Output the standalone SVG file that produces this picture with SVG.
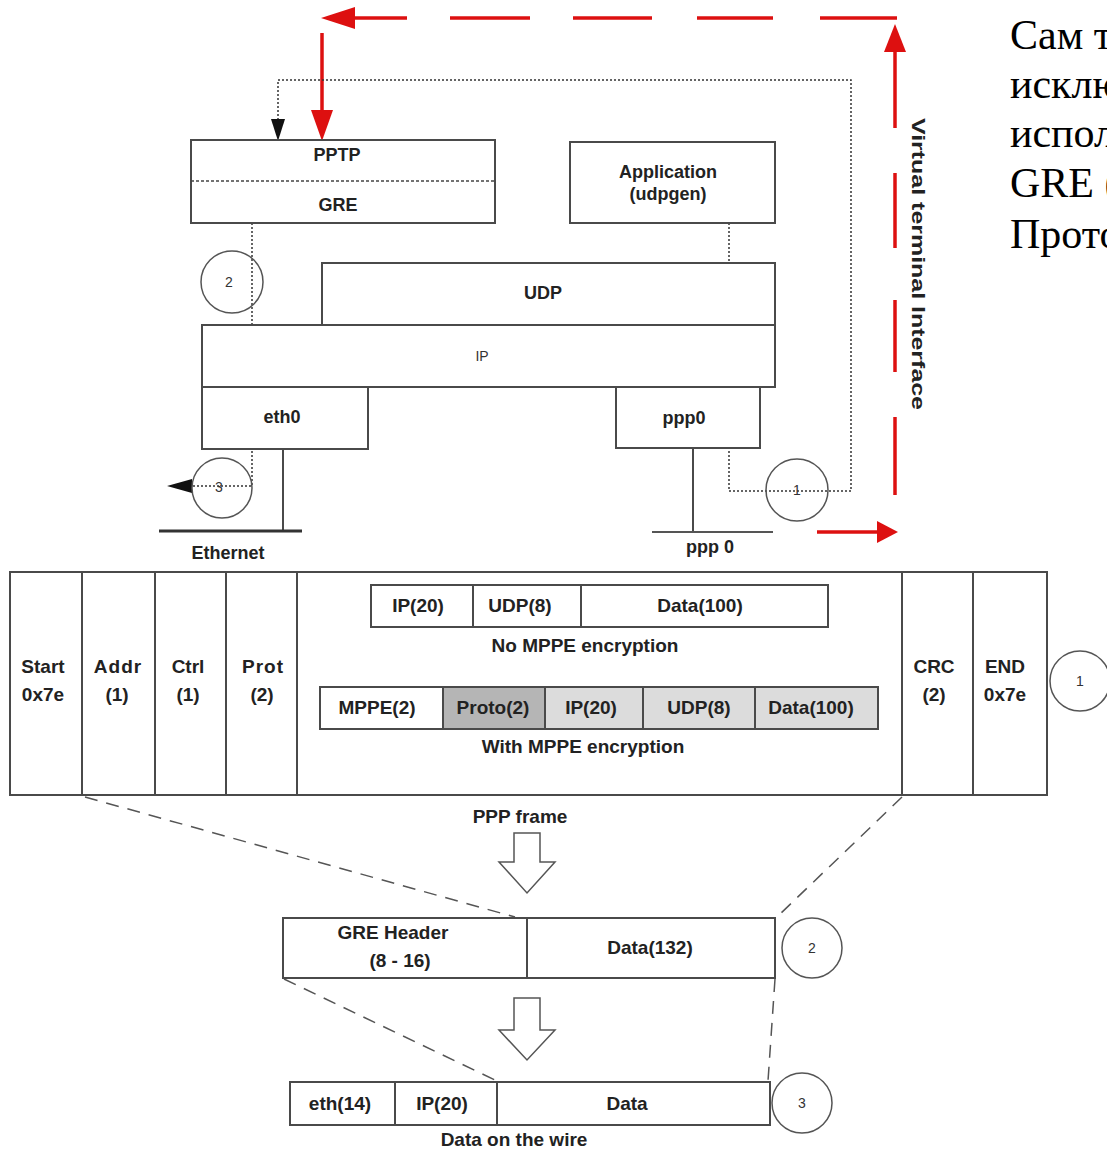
<svg xmlns="http://www.w3.org/2000/svg" width="1107" height="1150" viewBox="0 0 1107 1150">
<style>
.box{fill:#fff;stroke:#4a4a4a;stroke-width:2}
.ln{stroke:#4a4a4a;stroke-width:2;fill:none}
.t{font-family:"Liberation Sans",Arial,sans-serif;font-weight:bold;font-size:18px;fill:#222;text-anchor:middle}
.tf{font-family:"Liberation Sans",Arial,sans-serif;font-weight:bold;font-size:19px;fill:#222;text-anchor:middle}
.tn{font-family:"Liberation Sans",Arial,sans-serif;font-size:14px;fill:#333;text-anchor:middle}
.circt{fill:none;stroke:#555;stroke-width:1.5}
.dot{stroke:#333;stroke-width:1.5;stroke-dasharray:2 2;fill:none}
.dash{stroke:#555;stroke-width:1.5;stroke-dasharray:13 9;fill:none}
.red{stroke:#dd1010;stroke-width:3.5;fill:none}
.redf{fill:#dd1010}
.ru{font-family:"Liberation Serif","Times New Roman",serif;font-size:42px;fill:#000}
</style>

<g id="connectors">
  <line class="red" x1="817" y1="532" x2="880" y2="532"/>
  <polygon class="redf" points="898,532 877,521 877,543"/>
  <line class="red" x1="895" y1="417" x2="895" y2="495"/>
  <line class="red" x1="895" y1="300" x2="895" y2="372"/>
  <line class="red" x1="895" y1="173" x2="895" y2="248"/>
  <line class="red" x1="895" y1="48" x2="895" y2="128"/>
  <polygon class="redf" points="895,24 884,52 906,52"/>
  <line class="red" x1="820" y1="18" x2="897" y2="18"/>
  <line class="red" x1="697" y1="18" x2="773" y2="18"/>
  <line class="red" x1="573" y1="18" x2="652" y2="18"/>
  <line class="red" x1="450" y1="18" x2="530" y2="18"/>
  <line class="red" x1="350" y1="18" x2="407" y2="18"/>
  <polygon class="redf" points="321,18 355,7 355,29"/>
  <line class="red" x1="322" y1="33" x2="322" y2="115"/>
  <polygon class="redf" points="322,141 311,110 333,110"/>
  <path class="dot" d="M278,120 V80 H851 V491 H729 V223"/>
  <polygon fill="#111" points="278,141 271,119 285,119"/>
  <path class="dot" d="M252,223 V486 H190"/>
  <polygon fill="#111" points="167,486 192,479 192,493"/>
  <line class="dash" x1="85" y1="797" x2="515" y2="917"/>
  <line class="dash" x1="902" y1="797" x2="778" y2="916"/>
  <line class="dash" x1="284" y1="979" x2="497" y2="1081"/>
  <line class="dash" x1="775" y1="979" x2="768" y2="1081"/>
</g>

<g id="pptp-gre">
  <rect class="box" x="191" y="140" width="304" height="83"/>
  <line x1="191" y1="181" x2="495" y2="181" stroke="#444" stroke-width="1.5" stroke-dasharray="3 2"/>
  <text class="t" x="337" y="161" font-size="17">PPTP</text>
  <text class="t" x="338" y="211" font-size="16">GRE</text>
</g>
<g id="application">
  <rect class="box" x="570" y="142" width="205" height="81"/>
  <text class="t" x="668" y="178" font-size="17">Application</text>
  <text class="t" x="668" y="200" font-size="17">(udpgen)</text>
</g>
<g id="udp">
  <rect class="box" x="322" y="263" width="453" height="62"/>
  <text class="t" x="543" y="299" font-size="16">UDP</text>
</g>
<g id="ip">
  <rect class="box" x="202" y="325" width="573" height="62"/>
  <text class="tn" x="482" y="361" font-size="15">IP</text>
</g>
<g id="eth0">
  <rect class="box" x="202" y="387" width="166" height="62"/>
  <text class="t" x="282" y="423" font-size="17">eth0</text>
  <line class="ln" x1="283" y1="449" x2="283" y2="531"/>
  <line x1="159" y1="531" x2="302" y2="531" stroke="#333" stroke-width="3"/>
  <text class="t" x="228" y="559">Ethernet</text>
</g>
<g id="ppp0">
  <rect class="box" x="616" y="387" width="144" height="61"/>
  <text class="t" x="684" y="424" font-size="17">ppp0</text>
  <line class="ln" x1="693" y1="448" x2="693" y2="532"/>
  <line x1="652" y1="532" x2="773" y2="532" stroke="#555" stroke-width="2"/>
  <text class="t" x="710" y="553">ppp 0</text>
</g>
<g id="marker-2-top">
  <circle class="circt" cx="232" cy="282" r="31"/>
  <text class="tn" x="229" y="287">2</text>
</g>
<g id="marker-3-top">
  <circle class="circt" cx="222" cy="488" r="30"/>
  <text class="tn" x="219" y="492" font-size="12">3</text>
</g>
<g id="marker-1-top">
  <circle class="circt" cx="797" cy="490" r="31"/>
  <text class="tn" x="797" y="495">1</text>
</g>
<g id="vti-label">
  <text class="t" font-size="22" textLength="292" lengthAdjust="spacingAndGlyphs" transform="translate(912,264) rotate(90)" x="0" y="0">Virtual terminal Interface</text>
</g>

<g id="ppp-frame">
  <rect class="box" x="10" y="572" width="1037" height="223"/>
  <line class="ln" x1="82" y1="572" x2="82" y2="795"/>
  <line class="ln" x1="155" y1="572" x2="155" y2="795"/>
  <line class="ln" x1="226" y1="572" x2="226" y2="795"/>
  <line class="ln" x1="297" y1="572" x2="297" y2="795"/>
  <line class="ln" x1="902" y1="572" x2="902" y2="795"/>
  <line class="ln" x1="973" y1="572" x2="973" y2="795"/>
  <text class="tf" x="43" y="673">Start</text>
  <text class="tf" x="43" y="701">0x7e</text>
  <text class="tf" x="118" y="673" letter-spacing="1">Addr</text>
  <text class="tf" x="117" y="701">(1)</text>
  <text class="tf" x="188" y="673">Ctrl</text>
  <text class="tf" x="188" y="701">(1)</text>
  <text class="tf" x="263" y="673" letter-spacing="1">Prot</text>
  <text class="tf" x="262" y="701">(2)</text>
  <text class="tf" x="934" y="673">CRC</text>
  <text class="tf" x="934" y="701">(2)</text>
  <text class="tf" x="1005" y="673" font-weight="normal">END</text>
  <text class="tf" x="1005" y="701">0x7e</text>
  <rect class="box" x="371" y="585" width="457" height="42"/>
  <line class="ln" x1="473" y1="585" x2="473" y2="627"/>
  <line class="ln" x1="581" y1="585" x2="581" y2="627"/>
  <text class="tf" x="418" y="612">IP(20)</text>
  <text class="tf" x="520" y="612">UDP(8)</text>
  <text class="tf" x="700" y="612">Data(100)</text>
  <text class="tf" x="585" y="652">No MPPE encryption</text>
  <rect class="box" x="320" y="687" width="123" height="42"/>
  <rect class="box" x="443" y="687" width="102" height="42" style="fill:#b5b5b5"/>
  <rect class="box" x="545" y="687" width="98" height="42" style="fill:#dcdcdc"/>
  <rect class="box" x="643" y="687" width="112" height="42" style="fill:#dcdcdc"/>
  <rect class="box" x="755" y="687" width="123" height="42" style="fill:#dcdcdc"/>
  <text class="tf" x="377" y="714">MPPE(2)</text>
  <text class="tf" x="493" y="714">Proto(2)</text>
  <text class="tf" x="591" y="714">IP(20)</text>
  <text class="tf" x="699" y="714">UDP(8)</text>
  <text class="tf" x="811" y="714">Data(100)</text>
  <text class="tf" x="583" y="753">With MPPE encryption</text>
  <text class="tf" x="520" y="823" font-size="20">PPP frame</text>
</g>
<g id="marker-1-frame">
  <circle class="circt" cx="1080" cy="681" r="30"/>
  <text class="tn" x="1080" y="686">1</text>
</g>

<g id="arrow-down-1">
  <polygon points="514,833 540,833 540,862 555,862 527,893 499,862 514,862" fill="#fff" stroke="#555" stroke-width="1.5"/>
</g>
<g id="gre-packet">
  <rect class="box" x="283" y="918" width="492" height="60"/>
  <line class="ln" x1="527" y1="918" x2="527" y2="978"/>
  <text class="tf" x="393" y="939">GRE Header</text>
  <text class="tf" x="400" y="967">(8 - 16)</text>
  <text class="tf" x="650" y="954">Data(132)</text>
</g>
<g id="marker-2-gre">
  <circle class="circt" cx="812" cy="948" r="30"/>
  <text class="tn" x="812" y="953">2</text>
</g>
<g id="arrow-down-2">
  <polygon points="514,998 540,998 540,1030 555,1030 527,1060 499,1030 514,1030" fill="#fff" stroke="#555" stroke-width="1.5"/>
</g>
<g id="wire-packet">
  <rect class="box" x="290" y="1082" width="480" height="43"/>
  <line class="ln" x1="395" y1="1082" x2="395" y2="1125"/>
  <line class="ln" x1="497" y1="1082" x2="497" y2="1125"/>
  <text class="tf" x="340" y="1110">eth(14)</text>
  <text class="tf" x="442" y="1110">IP(20)</text>
  <text class="tf" x="627" y="1110">Data</text>
  <text class="tf" x="514" y="1146">Data on the wire</text>
</g>
<g id="marker-3-wire">
  <circle class="circt" cx="802" cy="1103" r="30"/>
  <text class="tn" x="802" y="1108">3</text>
</g>

<g id="side-text">
  <text class="ru" x="1010" y="49">Сам т</text>
  <text class="ru" x="1010" y="98">исклю</text>
  <text class="ru" x="1010" y="147">испол</text>
  <text class="ru" x="1010" y="197">GRE (</text>
  <text class="ru" x="1010" y="248">Прото</text>
</g>
</svg>
